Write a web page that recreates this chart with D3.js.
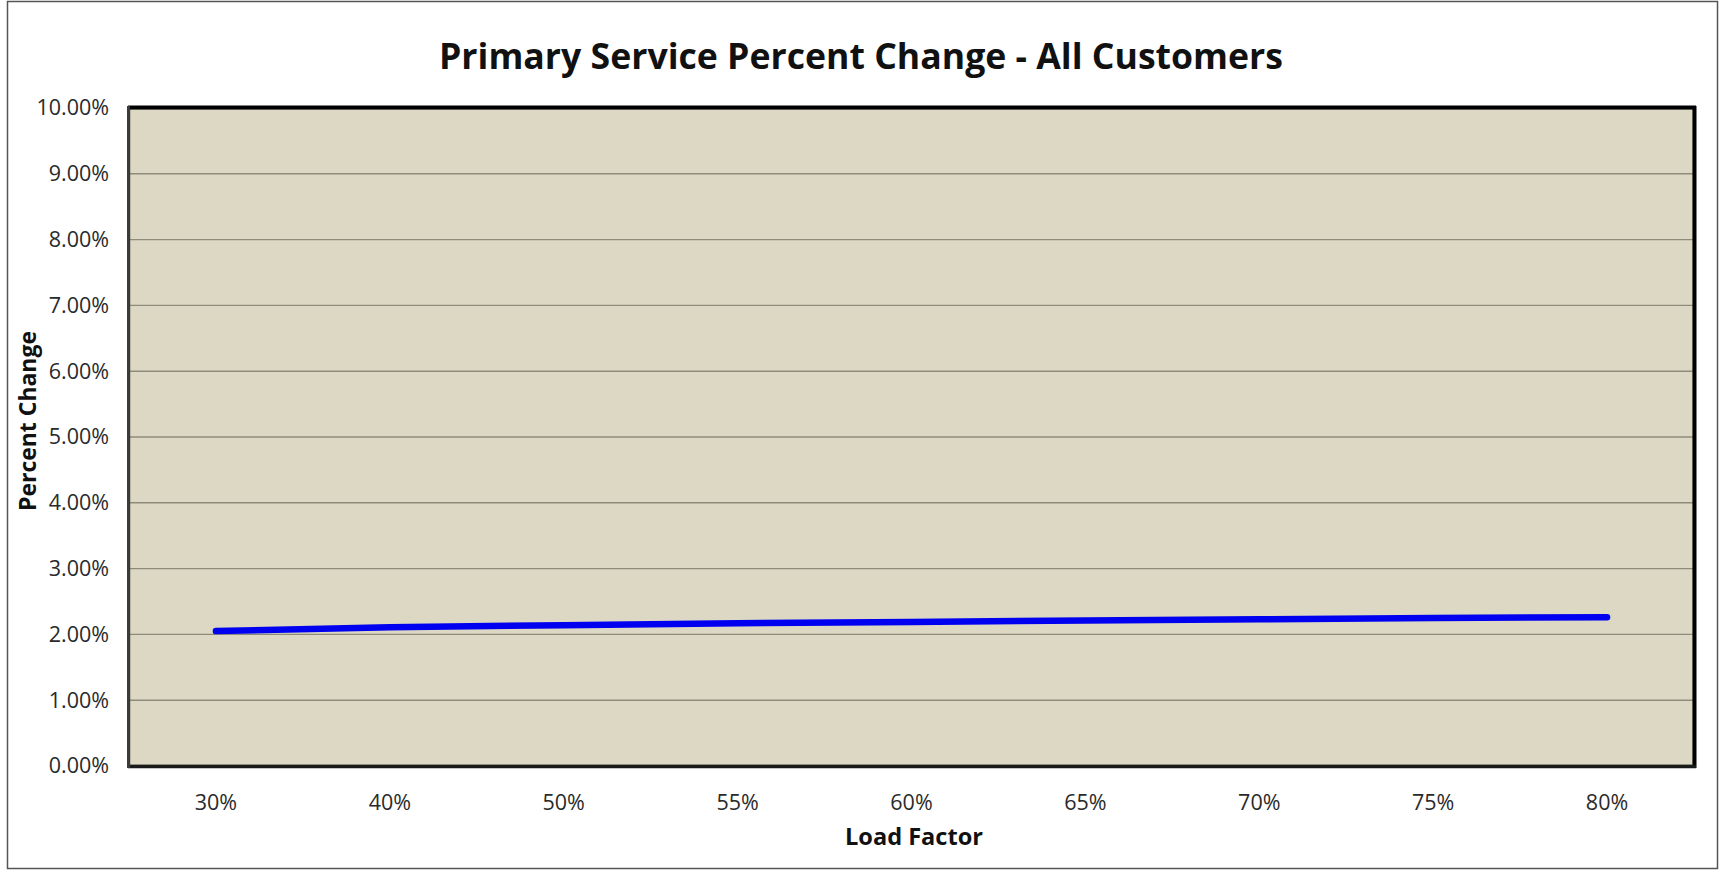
<!DOCTYPE html>
<html>
<head>
<meta charset="utf-8">
<script src="https://cdn.jsdelivr.net/npm/d3@7"></script>
<style>
  html, body { margin: 0; padding: 0; background: #ffffff; }
  svg { display: block; }
</style>
</head>
<body>
<svg id="chart" width="1723" height="871"></svg>
<script>
// Load factor categories and the percent change for each
const loadFactors = ["30%", "40%", "50%", "55%", "60%", "65%", "70%", "75%", "80%"];
const percentChange = [2.05, 2.11, 2.14, 2.17, 2.19, 2.21, 2.23, 2.25, 2.26];
const yTicks = [0, 1, 2, 3, 4, 5, 6, 7, 8, 9, 10];

const chartTitle = "Primary Service Percent Change - All Customers";
const xTitle = "Load Factor";
const yTitle = "Percent Change";

const plot = { left: 129, top: 108, right: 1694, bottom: 766 };

const svg = d3.select("#chart");

// outer frame
svg.append("rect")
  .attr("x", 7.5).attr("y", 1.5)
  .attr("width", 1710).attr("height", 867)
  .attr("fill", "#ffffff")
  .attr("stroke", "#555555").attr("stroke-width", 1.5);

const x = d3.scaleBand().domain(loadFactors).range([plot.left, plot.right]).padding(0);
const y = d3.scaleLinear().domain([0, 10]).range([plot.bottom, plot.top]);

// plot background
svg.append("rect")
  .attr("x", plot.left).attr("y", plot.top)
  .attr("width", plot.right - plot.left).attr("height", plot.bottom - plot.top)
  .attr("fill", "#ddd8c3");

// horizontal gridlines
svg.append("g").selectAll("line")
  .data(yTicks.filter(t => t > 0 && t < 10))
  .join("line")
  .attr("x1", plot.left).attr("x2", plot.right)
  .attr("y1", d => y(d)).attr("y2", d => y(d))
  .attr("stroke", "#8f8b7a").attr("stroke-width", 1.4);

// y axis labels
const yAxis = d3.axisLeft(y).tickValues(yTicks).tickSize(0).tickPadding(20)
  .tickFormat(d => d.toFixed(2) + "%");
const gy = svg.append("g").attr("transform", `translate(${plot.left},0)`).call(yAxis);
gy.select(".domain").remove();
gy.selectAll("text")
  .attr("font-family", "'Open Sans', sans-serif")
  .attr("font-size", 21.5)
  .attr("fill", "#2a2a2a");

// x axis labels
const xAxis = d3.axisBottom(x).tickSize(0).tickPadding(29);
const gx = svg.append("g").attr("transform", `translate(0,${plot.bottom})`).call(xAxis);
gx.select(".domain").remove();
gx.selectAll("text")
  .attr("font-family", "'Open Sans', sans-serif")
  .attr("font-size", 21.5)
  .attr("fill", "#2a2a2a");

// plot area border: gray left/bottom, heavy black top/right
svg.append("rect")
  .attr("x", plot.left).attr("y", plot.top)
  .attr("width", plot.right - plot.left).attr("height", plot.bottom - plot.top)
  .attr("fill", "none")
  .attr("stroke", "#4a4a4a").attr("stroke-width", 2.5);
svg.append("line")
  .attr("x1", plot.left - 1).attr("x2", plot.right + 2)
  .attr("y1", plot.top - 0.5).attr("y2", plot.top - 0.5)
  .attr("stroke", "#000000").attr("stroke-width", 4);
svg.append("line")
  .attr("x1", plot.right + 0.5).attr("x2", plot.right + 0.5)
  .attr("y1", plot.top - 2).attr("y2", plot.bottom + 2)
  .attr("stroke", "#000000").attr("stroke-width", 4);
svg.append("line")
  .attr("x1", plot.left - 1).attr("x2", plot.right + 2)
  .attr("y1", plot.bottom + 0.5).attr("y2", plot.bottom + 0.5)
  .attr("stroke", "#1a1a1a").attr("stroke-width", 3.5);
svg.append("line")
  .attr("x1", plot.left - 0.5).attr("x2", plot.left - 0.5)
  .attr("y1", plot.top - 2).attr("y2", plot.bottom + 2)
  .attr("stroke", "#3a3a3a").attr("stroke-width", 3);

// data line
const line = d3.line()
  .x((d, i) => x(loadFactors[i]) + x.bandwidth() / 2)
  .y(d => y(d));
svg.append("path")
  .datum(percentChange)
  .attr("d", line)
  .attr("fill", "none")
  .attr("stroke", "#0000f0")
  .attr("stroke-width", 6.5)
  .attr("stroke-linecap", "round")
  .attr("stroke-linejoin", "round");

// titles
function fitText(sel, width) {
  const w = sel.node().getComputedTextLength();
  if (w > width) sel.attr("textLength", width).attr("lengthAdjust", "spacingAndGlyphs");
}

const t = svg.append("text")
  .attr("x", 861).attr("y", 69)
  .attr("text-anchor", "middle")
  .attr("font-family", "'Open Sans', sans-serif")
  .attr("font-weight", "bold")
  .attr("font-size", 36)
  .attr("fill", "#111111")
  .text(chartTitle);
fitText(t, 844);

const xt = svg.append("text")
  .attr("x", 914).attr("y", 845)
  .attr("text-anchor", "middle")
  .attr("font-family", "'Open Sans', sans-serif")
  .attr("font-weight", "bold")
  .attr("font-size", 24)
  .attr("fill", "#111111")
  .text(xTitle);
fitText(xt, 138);

const yt = svg.append("text")
  .attr("transform", "translate(36,421) rotate(-90)")
  .attr("text-anchor", "middle")
  .attr("font-family", "'Open Sans', sans-serif")
  .attr("font-weight", "bold")
  .attr("font-size", 24)
  .attr("fill", "#111111")
  .text(yTitle);
fitText(yt, 180);
</script>
</body>
</html>
